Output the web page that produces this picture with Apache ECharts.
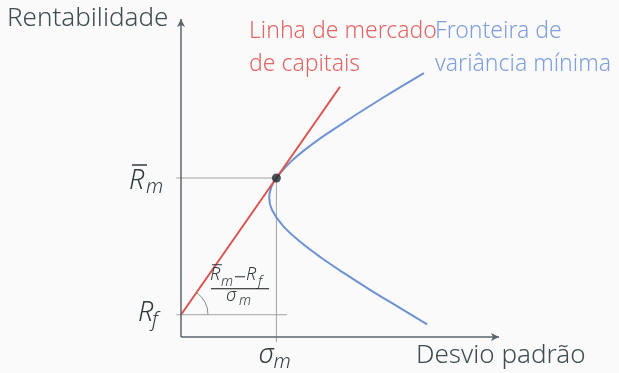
<!DOCTYPE html>
<html>
<head>
<meta charset="utf-8">
<script src="https://cdn.jsdelivr.net/npm/echarts@6/dist/echarts.min.js"></script>
<style>
  html, body { margin: 0; padding: 0; background: #fafafa; }
  #chart { width: 619px; height: 373px; }
</style>
</head>
<body>
<div id="chart"></div>
<script>
// values (sigma = desvio padrao, R = rentabilidade)
const riskFree = 0.7;
const marketSigma = 3.0;
const marketReturn = 5.0;

const cmlSigma = [0, 5.0];
const cmlReturn = [0.7, 7.87];

const frontierSigma = [7.64, 6.31, 4.75, 4.04, 3.44, 3.0, 2.835, 2.775, 2.86, 3.2, 3.74, 4.4, 5.14, 5.92, 6.74, 7.74];
const frontierReturn = [8.3, 7.5, 6.5, 6.0, 5.5, 5.0, 4.7, 4.38, 4.0, 3.5, 3.0, 2.5, 2.0, 1.5, 1.0, 0.4];

// guide lines to the market point and the risk free level
const guideSigma = [-0.15, 3.0, 3.0];
const guideReturn = [5.0, 5.0, -0.16];
const rfGuideSigma = [-0.15, 3.33];

const axisMax = 10;

const zip = (xs, ys) => xs.map((x, i) => [x, ys[i]]);

const mathFont = '"Noto Sans", sans-serif';
const darkText = '#2f3a3f';

// text drawn from the top of its box, so turn a baseline into a top
function piece(x, baseline, t, size, color) {
    return {
        type: 'text',
        style: {
            x: x, y: baseline - 0.8 * size, text: t,
            font: 'italic 300 ' + size + 'px ' + mathFont,
            fill: color || darkText,
            verticalAlign: 'top'
        }
    };
}

function bar(x1, y1, x2, y2, w, color) {
    return {
        type: 'line',
        shape: { x1: x1, y1: y1, x2: x2, y2: y2 },
        style: { stroke: color || darkText, lineWidth: w }
    };
}

function renderLabels(params, api) {
    const rm = api.coord([0, marketReturn]);
    const rf = api.coord([0, riskFree]);
    const sm = api.coord([marketSigma, 0]);
    const tip = api.coord([cmlSigma[1], cmlReturn[1]]);
    const ang = Math.atan2(rf[1] - tip[1], tip[0] - rf[0]);
    const children = [
        // R bar m
        piece(rm[0] - 52, rm[1] + 11, 'R', 27),
        piece(rm[0] - 35, rm[1] + 15, 'm', 20),
        bar(rm[0] - 49, rm[1] - 13, rm[0] - 34, rm[1] - 13, 1.5),
        // R f
        piece(rf[0] - 43, rf[1] + 7, 'R', 27),
        piece(rf[0] - 29, rf[1] + 12, 'f', 20),
        // sigma m
        piece(sm[0] - 18, sm[1] + 26, 'σ', 27),
        piece(sm[0] - 3, sm[1] + 31, 'm', 20),
        // slope fraction
        piece(rf[0] + 29, rf[1] - 34, 'R', 18),
        bar(rf[0] + 31, rf[1] - 50, rf[0] + 41, rf[1] - 50, 1),
        piece(rf[0] + 40, rf[1] - 29, 'm', 14),
        bar(rf[0] + 54, rf[1] - 38, rf[0] + 64, rf[1] - 38, 1.1),
        piece(rf[0] + 65, rf[1] - 34, 'R', 18),
        piece(rf[0] + 77, rf[1] - 29, 'f', 14),
        bar(rf[0] + 30, rf[1] - 26, rf[0] + 88, rf[1] - 26, 1.2, '#111'),
        piece(rf[0] + 45, rf[1] - 13, 'σ', 18),
        piece(rf[0] + 58, rf[1] - 10, 'm', 14),
        // angle arc at Rf
        {
            type: 'arc',
            shape: { cx: rf[0], cy: rf[1], r: 27, startAngle: -ang, endAngle: 0 },
            style: { stroke: '#8a8a8a', lineWidth: 1, fill: null }
        }
    ];
    return { type: 'group', children: children };
}

let myChart = echarts.init(document.getElementById('chart'));

let option = {
    backgroundColor: '#fafafa',
    animation: false,
    grid: {
        left: 165.1,
        top: 19,
        width: 333.9,
        height: 333.9
    },
    xAxis: {
        type: 'value',
        min: -0.5,
        max: axisMax,
        show: false
    },
    yAxis: {
        type: 'value',
        min: -0.5,
        max: axisMax,
        show: false
    },
    graphic: [
        {
            type: 'text', left: 7, top: 6,
            style: { text: 'Rentabilidade', font: '300 26px "Noto Sans"', fill: '#3f4d53' }
        },
        {
            type: 'text', left: 249, top: 15,
            style: { text: 'Linha de mercado\nde capitais', font: '300 23px "Noto Sans"', fill: '#e06767', lineHeight: 33 }
        },
        {
            type: 'text', left: 435, top: 15,
            style: { text: 'Fronteira de\nvariância mínima', font: '300 23px "Noto Sans"', fill: '#7f9fdc', lineHeight: 33 }
        },
        {
            type: 'text', left: 416, top: 343,
            style: { text: 'Desvio padrão', font: '300 26px "Noto Sans"', fill: '#3f4d53' }
        }
    ],
    series: [
        {
            // axes
            type: 'line',
            data: [],
            silent: true,
            markLine: {
                silent: true,
                symbol: ['none', 'arrow'],
                symbolSize: [6, 8],
                label: { show: false },
                lineStyle: { color: '#58666c', width: 1.5, type: 'solid' },
                data: [
                    [{ coord: [0, 0] }, { coord: [axisMax, 0] }],
                    [{ coord: [0, 0] }, { coord: [0, axisMax] }]
                ]
            }
        },
        {
            type: 'line',
            data: zip(guideSigma, guideReturn),
            symbol: 'none',
            lineStyle: { color: '#a4a4a4', width: 1 },
            silent: true
        },
        {
            type: 'line',
            data: zip(rfGuideSigma, [riskFree, riskFree]),
            symbol: 'none',
            lineStyle: { color: '#a4a4a4', width: 1 },
            silent: true
        },
        {
            type: 'line',
            data: zip(frontierSigma, frontierReturn),
            symbol: 'none',
            smooth: 0.4,
            lineStyle: { color: '#6f93d2', width: 2 },
            z: 3
        },
        {
            type: 'line',
            data: zip(cmlSigma, cmlReturn),
            symbol: 'none',
            lineStyle: { color: '#d9534f', width: 2 },
            z: 4
        },
        {
            type: 'scatter',
            data: [[marketSigma, marketReturn]],
            symbolSize: 9,
            itemStyle: { color: '#1f2b30' },
            z: 5
        },
        {
            type: 'custom',
            data: [[0, 0]],
            renderItem: renderLabels,
            silent: true,
            z: 6
        }
    ]
};

myChart.setOption(option);
</script>
</body>
</html>
